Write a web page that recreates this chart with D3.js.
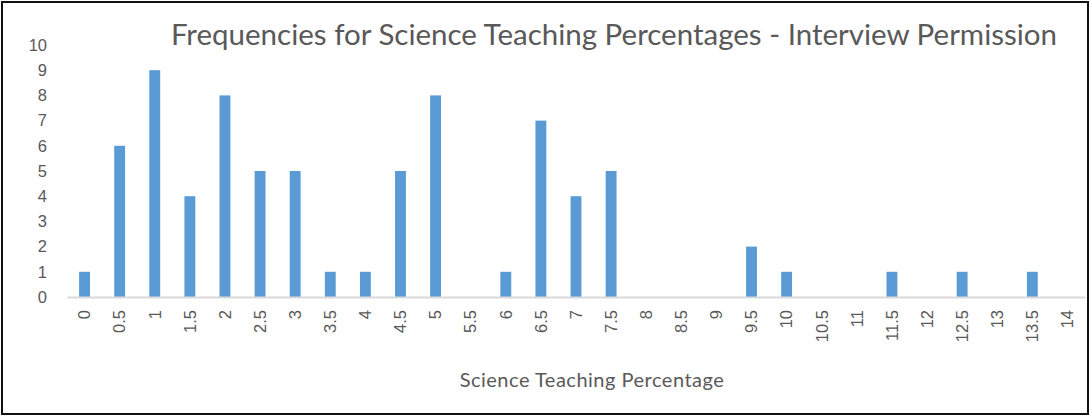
<!DOCTYPE html>
<html>
<head>
<meta charset="utf-8">
<script src="https://cdnjs.cloudflare.com/ajax/libs/d3/7.8.5/d3.min.js"></script>
<style>
body { margin: 0; background: #fff; }
svg { display: block; font-family: Lato, 'Open Sans', sans-serif; }
.axis text { fill: #595959; }
</style>
</head>
<body>
<script>
var categories = ['0', '0.5', '1', '1.5', '2', '2.5', '3', '3.5', '4', '4.5', '5', '5.5', '6', '6.5', '7',
    '7.5', '8', '8.5', '9', '9.5', '10', '10.5', '11', '11.5', '12', '12.5', '13', '13.5', '14']
var frequencies = [1, 6, 9, 4, 8, 5, 5, 1, 1, 5, 8, 0, 1, 7, 4, 5, 0, 0, 0, 2, 1, 0, 0, 1, 0, 1, 0, 1, 0]
var yTicks = [0, 1, 2, 3, 4, 5, 6, 7, 8, 9, 10]

var chartTitle = 'Frequencies for Science Teaching Percentages - Interview Permission'
var xTitle = 'Science Teaching Percentage'

var W = 1090, H = 416
var margin = { top: 45, right: 5, bottom: 119, left: 67 }
var width = W - margin.left - margin.right
var height = H - margin.top - margin.bottom

var svg = d3.select('body').append('svg')
    .attr('width', W)
    .attr('height', H)

svg.append('rect')
    .attr('x', 2).attr('y', 2)
    .attr('width', W - 4).attr('height', H - 4)
    .attr('fill', '#fff')
    .attr('stroke', '#111')
    .attr('stroke-width', 2)

var g = svg.append('g')
    .attr('transform', 'translate(' + margin.left + ',' + margin.top + ')')

var x = d3.scaleBand()
    .domain(categories)
    .range([0, width])
    .paddingInner(0.69)
    .paddingOuter(0.345)

var y = d3.scaleLinear()
    .domain([0, 10])
    .range([height, 0])

var yAxis = d3.axisLeft(y)
    .tickValues(yTicks)
    .tickSize(0)
    .tickPadding(20)

var gy = g.append('g')
    .attr('class', 'y axis')
    .call(yAxis)
gy.select('.domain').remove()
gy.selectAll('text').style('font-size', '16.5px')

var bars = categories.map(function (c, i) { return { cat: c, value: frequencies[i] } })

g.selectAll('.bar')
    .data(bars)
    .enter().append('rect')
    .attr('class', 'bar')
    .attr('x', function (d) { return x(d.cat) })
    .attr('width', x.bandwidth())
    .attr('y', function (d) { return y(d.value) })
    .attr('height', function (d) { return height - y(d.value) })
    .attr('fill', '#5b9bd5')

var xAxis = d3.axisBottom(x)
    .tickSize(0)
    .tickPadding(12)

var gx = g.append('g')
    .attr('class', 'x axis')
    .attr('transform', 'translate(0,' + height + ')')
    .call(xAxis)
gx.select('.domain')
    .attr('stroke', '#d9d9d9')
    .attr('stroke-width', 2)
gx.selectAll('text')
    .style('font-size', '16.5px')
    .attr('text-anchor', 'end')
    .attr('dx', 0)
    .attr('dy', '0.35em')
    .attr('transform', 'rotate(-90)')
    .attr('x', -13)
    .attr('y', 0)

svg.append('text')
    .attr('x', 614)
    .attr('y', 45)
    .attr('text-anchor', 'middle')
    .style('font-size', '29.5px')
    .attr('fill', '#595959')
    .text(chartTitle)

svg.append('text')
    .attr('x', 592)
    .attr('y', 387)
    .attr('text-anchor', 'middle')
    .style('font-size', '20px')
    .style('letter-spacing', '0.5px')
    .attr('fill', '#595959')
    .text(xTitle)
</script>
</body>
</html>
